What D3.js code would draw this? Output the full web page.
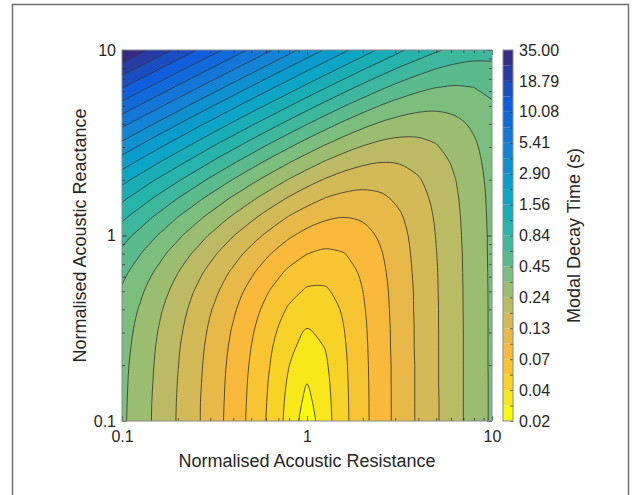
<!DOCTYPE html>
<html>
<head>
<meta charset="utf-8">
<script src="https://cdn.jsdelivr.net/npm/d3@7"></script>
<style>
  body { margin: 0; background: #fff; }
  text { font-family: "Liberation Sans", Arial, sans-serif; fill: #262626; }
</style>
</head>
<body>
<svg id="chart" width="636" height="495"></svg>
<script>
// grid of the sampled field (log spaced, 0.1 decade)
const resistance = [0.1, 0.126, 0.158, 0.2, 0.251, 0.316, 0.398, 0.501, 0.631, 0.794, 1,
                    1.26, 1.58, 2, 2.51, 3.16, 3.98, 5.01, 6.31, 7.94, 10];
const reactance  = [0.1, 0.126, 0.158, 0.2, 0.251, 0.316, 0.398, 0.501, 0.631, 0.794, 1,
                    1.26, 1.58, 2, 2.51, 3.16, 3.98, 5.01, 6.31, 7.94, 10];

// modal decay time (s), one row per reactance value (bottom row first)
const decayTime = [
  [0.349, 0.277, 0.219, 0.173, 0.137, 0.107, 0.0833, 0.0639, 0.0477, 0.0336, 0.0231, 0.0330, 0.0471, 0.0632, 0.0824, 0.106, 0.135, 0.171, 0.217, 0.274, 0.345],
  [0.351, 0.278, 0.220, 0.174, 0.137, 0.108, 0.0840, 0.0645, 0.0483, 0.0345, 0.0250, 0.0336, 0.0473, 0.0633, 0.0825, 0.106, 0.135, 0.171, 0.217, 0.274, 0.345],
  [0.354, 0.281, 0.223, 0.176, 0.139, 0.109, 0.0850, 0.0654, 0.0493, 0.0358, 0.0273, 0.0345, 0.0477, 0.0635, 0.0827, 0.106, 0.135, 0.172, 0.217, 0.274, 0.345],
  [0.359, 0.285, 0.226, 0.179, 0.141, 0.111, 0.0865, 0.0669, 0.0508, 0.0377, 0.0300, 0.0358, 0.0483, 0.0639, 0.0829, 0.106, 0.135, 0.172, 0.217, 0.274, 0.346],
  [0.368, 0.292, 0.231, 0.183, 0.144, 0.114, 0.0890, 0.0691, 0.0530, 0.0403, 0.0333, 0.0377, 0.0493, 0.0645, 0.0833, 0.107, 0.136, 0.172, 0.217, 0.274, 0.346],
  [0.380, 0.302, 0.239, 0.190, 0.150, 0.118, 0.0929, 0.0726, 0.0564, 0.0440, 0.0373, 0.0403, 0.0508, 0.0654, 0.0840, 0.107, 0.136, 0.172, 0.217, 0.274, 0.346],
  [0.401, 0.318, 0.252, 0.200, 0.159, 0.125, 0.0990, 0.0779, 0.0614, 0.0491, 0.0424, 0.0440, 0.0530, 0.0669, 0.0850, 0.108, 0.137, 0.172, 0.218, 0.274, 0.346],
  [0.433, 0.344, 0.273, 0.217, 0.172, 0.137, 0.108, 0.0860, 0.0687, 0.0561, 0.0490, 0.0491, 0.0564, 0.0691, 0.0865, 0.109, 0.137, 0.173, 0.218, 0.275, 0.346],
  [0.485, 0.385, 0.306, 0.243, 0.193, 0.154, 0.123, 0.0983, 0.0795, 0.0658, 0.0577, 0.0561, 0.0614, 0.0726, 0.0890, 0.111, 0.139, 0.174, 0.219, 0.276, 0.347],
  [0.566, 0.450, 0.358, 0.285, 0.227, 0.181, 0.145, 0.117, 0.0952, 0.0795, 0.0695, 0.0658, 0.0687, 0.0779, 0.0929, 0.114, 0.141, 0.176, 0.220, 0.277, 0.348],
  [0.694, 0.552, 0.439, 0.350, 0.279, 0.223, 0.179, 0.145, 0.119, 0.0991, 0.0861, 0.0795, 0.0795, 0.0860, 0.0990, 0.118, 0.144, 0.179, 0.223, 0.278, 0.349],
  [0.897, 0.714, 0.568, 0.452, 0.361, 0.289, 0.232, 0.188, 0.154, 0.128, 0.110, 0.0991, 0.0952, 0.0983, 0.108, 0.125, 0.150, 0.183, 0.226, 0.281, 0.351],
  [1.22, 0.969, 0.771, 0.614, 0.490, 0.392, 0.314, 0.254, 0.207, 0.172, 0.146, 0.128, 0.119, 0.117, 0.123, 0.137, 0.159, 0.190, 0.231, 0.285, 0.354],
  [1.73, 1.37, 1.09, 0.870, 0.694, 0.554, 0.444, 0.357, 0.290, 0.238, 0.199, 0.172, 0.154, 0.145, 0.145, 0.154, 0.172, 0.200, 0.239, 0.292, 0.359],
  [2.54, 2.02, 1.60, 1.28, 1.02, 0.810, 0.648, 0.520, 0.420, 0.342, 0.282, 0.238, 0.207, 0.188, 0.179, 0.181, 0.193, 0.217, 0.253, 0.302, 0.368],
  [3.81, 3.03, 2.41, 1.92, 1.53, 1.21, 0.970, 0.776, 0.623, 0.504, 0.412, 0.342, 0.290, 0.254, 0.232, 0.223, 0.227, 0.243, 0.273, 0.318, 0.380],
  [5.84, 4.64, 3.69, 2.93, 2.33, 1.86, 1.48, 1.18, 0.946, 0.760, 0.616, 0.504, 0.420, 0.357, 0.314, 0.289, 0.279, 0.285, 0.306, 0.344, 0.401],
  [9.05, 7.19, 5.72, 4.54, 3.61, 2.87, 2.29, 1.82, 1.46, 1.17, 0.938, 0.760, 0.623, 0.520, 0.444, 0.392, 0.361, 0.350, 0.358, 0.385, 0.433],
  [14.1, 11.2, 8.93, 7.09, 5.64, 4.48, 3.57, 2.84, 2.26, 1.81, 1.45, 1.17, 0.946, 0.776, 0.648, 0.554, 0.490, 0.452, 0.439, 0.450, 0.485],
  [22.2, 17.6, 14.0, 11.1, 8.85, 7.03, 5.59, 4.45, 3.54, 2.82, 2.25, 1.81, 1.46, 1.18, 0.970, 0.810, 0.694, 0.614, 0.568, 0.552, 0.566],
  [35.0, 27.8, 22.1, 17.5, 13.9, 11.1, 8.81, 7.00, 5.57, 4.43, 3.53, 2.82, 2.26, 1.82, 1.48, 1.21, 1.02, 0.870, 0.771, 0.714, 0.694]
];

// contour levels (s), the colorbar labels sit on every other one
const levels = [0.02000, 0.02730, 0.03727, 0.05087, 0.06943, 0.09477, 0.1294, 0.1766, 0.2410,
                0.3290, 0.4491, 0.6130, 0.8367, 1.1421, 1.5589, 2.1279, 2.9045, 3.9646,
                5.4116, 7.3867, 10.083, 13.763, 18.785, 25.642, 35.00];

const axisTicks = [0.1, 1, 10];
const minorTicks = [0.2, 0.3, 0.4, 0.5, 0.6, 0.7, 0.8, 0.9, 2, 3, 4, 5, 6, 7, 8, 9];

// parula-like map, dark end first
const parulaPos   = [0, 0.125, 0.25, 0.375, 0.5, 0.625, 0.72, 0.82, 0.9, 1];
const parulaStops = ["#352a87", "#0f5cdd", "#1481d6", "#06a4ca", "#2eb7a4",
                     "#87bf77", "#cbb95d", "#f9b83d", "#f7cd2c", "#f9fb0e"];

const svg = d3.select("#chart");
const plot = { left: 122, right: 492, top: 50, bottom: 421 };
const tickFont = 16;
const labelFont = 18;

svg.append("rect").attr("width", 636).attr("height", 495).attr("fill", "#fff");
// figure frame
svg.append("rect")
  .attr("x", 12.5).attr("y", 4.5).attr("width", 616).attr("height", 520)
  .attr("fill", "none").attr("stroke", "#6f6f6f").attr("stroke-width", 1.5);

let x = d3.scaleLog().domain([0.1, 10]).range([plot.left, plot.right]);
let y = d3.scaleLog().domain([0.1, 10]).range([plot.bottom, plot.top]);

let parula = d3.scaleLinear().domain(parulaPos).range(parulaStops).interpolate(d3.interpolateRgb);
let nBands = levels.length - 1;
let bandColor = k => parula(1 - k / (nBands - 1));

// contours on log10 of the decay time
let nx = resistance.length, ny = reactance.length;
let values = decayTime.flat().map(v => Math.log10(v));
let contours = d3.contours()
  .size([nx, ny])
  .thresholds(levels.slice(0, -1).map(v => Math.log10(v)))(values);

// grid cell centres sit at i + 0.5
let gx = d3.scaleLinear().domain([0.5, nx - 0.5])
  .range([Math.log10(resistance[0]), Math.log10(resistance[nx - 1])]);
let gy = d3.scaleLinear().domain([0.5, ny - 0.5])
  .range([Math.log10(reactance[0]), Math.log10(reactance[ny - 1])]);

let toPixel = p => [x(Math.pow(10, gx(p[0]))), y(Math.pow(10, gy(p[1])))];
let isEdge = p => p[0] === 0 || p[0] === nx || p[1] === 0 || p[1] === ny;
let clampPt = p => [Math.max(0.5, Math.min(nx - 0.5, p[0])), Math.max(0.5, Math.min(ny - 0.5, p[1]))];
let openCurve = d3.line().curve(d3.curveCatmullRom.alpha(0.5));
let closedCurve = d3.line().curve(d3.curveCatmullRomClosed.alpha(0.5));

// split a ring into runs along the grid edge and runs through the field
function ringRuns(ring) {
  let pts = ring.slice(0, -1);
  let start = pts.findIndex(isEdge);
  if (start < 0) return null;
  pts = pts.slice(start).concat(pts.slice(0, start));
  let runs = [];
  pts.forEach(p => {
    let e = isEdge(p);
    let last = runs[runs.length - 1];
    if (!last || last.edge !== e) runs.push({ edge: e, pts: [] });
    runs[runs.length - 1].pts.push(toPixel(e ? clampPt(p) : p));
  });
  return runs;
}

function fillPath(c) {
  let out = "";
  c.coordinates.forEach(polygon => polygon.forEach(ring => {
    let runs = ringRuns(ring);
    if (!runs) { out += closedCurve(ring.slice(0, -1).map(toPixel)); return; }
    let s = "M" + runs[0].pts[0].join(",");
    runs.forEach(r => {
      if (r.edge || r.pts.length < 2) s += r.pts.map(p => "L" + p.join(",")).join("");
      else s += "L" + openCurve(r.pts).slice(1);
    });
    out += s + "Z";
  }));
  return out;
}

function linePath(c) {
  let out = "";
  c.coordinates.forEach(polygon => polygon.forEach(ring => {
    let runs = ringRuns(ring);
    if (!runs) { out += closedCurve(ring.slice(0, -1).map(toPixel)); return; }
    runs.filter(r => !r.edge && r.pts.length > 1).forEach(r => { out += openCurve(r.pts); });
  }));
  return out;
}

svg.append("clipPath").attr("id", "plotClip")
  .append("rect")
  .attr("x", plot.left).attr("y", plot.top)
  .attr("width", plot.right - plot.left).attr("height", plot.bottom - plot.top);

let field = svg.append("g").attr("clip-path", "url(#plotClip)");
field.append("rect")
  .attr("x", plot.left).attr("y", plot.top)
  .attr("width", plot.right - plot.left).attr("height", plot.bottom - plot.top)
  .attr("fill", bandColor(0));
field.append("g").selectAll("path")
  .data(contours.slice(1))
  .join("path")
  .attr("d", fillPath)
  .attr("fill", (d, i) => bandColor(i + 1))
  .attr("stroke", "none");

field.append("g").selectAll("path")
  .data(contours.slice(1))
  .join("path")
  .attr("d", linePath)
  .attr("fill", "none")
  .attr("stroke", "#333")
  .attr("stroke-width", 0.9)
  .attr("stroke-opacity", 0.9);

// axes, ticks pointing inwards on all four sides
function styleAxis(g) {
  g.select(".domain").remove();
  g.selectAll(".tick line").attr("stroke", "#262626").attr("stroke-width", 0.7);
  g.selectAll(".tick text").attr("font-size", tickFont).attr("fill", "#262626")
    .style("font-family", '"Liberation Sans", Arial, sans-serif');
}

svg.append("g").attr("transform", `translate(0,${plot.bottom})`)
  .call(d3.axisBottom(x).tickValues(axisTicks).tickFormat(d3.format("~g")).tickSize(-5).tickPadding(10))
  .call(styleAxis);
svg.append("g").attr("transform", `translate(0,${plot.bottom})`)
  .call(d3.axisBottom(x).tickValues(minorTicks).tickFormat("").tickSize(-3))
  .call(styleAxis);
svg.append("g").attr("transform", `translate(0,${plot.top})`)
  .call(d3.axisTop(x).tickValues(axisTicks).tickFormat("").tickSize(-5))
  .call(styleAxis);
svg.append("g").attr("transform", `translate(0,${plot.top})`)
  .call(d3.axisTop(x).tickValues(minorTicks).tickFormat("").tickSize(-3))
  .call(styleAxis);

svg.append("g").attr("transform", `translate(${plot.left},0)`)
  .call(d3.axisLeft(y).tickValues(axisTicks).tickFormat(d3.format("~g")).tickSize(-5).tickPadding(6))
  .call(styleAxis);
svg.append("g").attr("transform", `translate(${plot.left},0)`)
  .call(d3.axisLeft(y).tickValues(minorTicks).tickFormat("").tickSize(-3))
  .call(styleAxis);
svg.append("g").attr("transform", `translate(${plot.right},0)`)
  .call(d3.axisRight(y).tickValues(axisTicks).tickFormat("").tickSize(-5))
  .call(styleAxis);
svg.append("g").attr("transform", `translate(${plot.right},0)`)
  .call(d3.axisRight(y).tickValues(minorTicks).tickFormat("").tickSize(-3))
  .call(styleAxis);

svg.append("rect")
  .attr("x", plot.left).attr("y", plot.top)
  .attr("width", plot.right - plot.left).attr("height", plot.bottom - plot.top)
  .attr("fill", "none").attr("stroke", "#8a8a8a").attr("stroke-width", 1);

svg.append("text")
  .attr("x", (plot.left + plot.right) / 2).attr("y", 467)
  .attr("text-anchor", "middle").attr("font-size", labelFont)
  .text("Normalised Acoustic Resistance");
svg.append("text")
  .attr("transform", `translate(86,${(plot.top + plot.bottom) / 2}) rotate(-90)`)
  .attr("text-anchor", "middle").attr("font-size", labelFont)
  .text("Normalised Acoustic Reactance");

// colorbar
let cb = { left: 503, right: 513 };
let cbScale = d3.scaleLog().domain([levels[0], levels[nBands]]).range([plot.bottom, plot.top]);

svg.append("g").selectAll("rect")
  .data(d3.pairs(levels))
  .join("rect")
  .attr("x", cb.left)
  .attr("y", d => cbScale(d[1]))
  .attr("width", cb.right - cb.left)
  .attr("height", d => cbScale(d[0]) - cbScale(d[1]))
  .attr("fill", (d, i) => bandColor(i));

svg.append("g").attr("transform", `translate(${cb.right},0)`)
  .call(d3.axisRight(cbScale).tickValues(levels).tickFormat("").tickSize(-3))
  .call(styleAxis);
svg.append("g").attr("transform", `translate(${cb.right},0)`)
  .call(d3.axisRight(cbScale).tickValues(levels.filter((d, i) => i % 2 === 0))
    .tickFormat(d3.format(".2f")).tickSize(0).tickPadding(6))
  .call(styleAxis);

svg.append("rect")
  .attr("x", cb.left).attr("y", plot.top)
  .attr("width", cb.right - cb.left).attr("height", plot.bottom - plot.top)
  .attr("fill", "none").attr("stroke", "#8a8a8a").attr("stroke-width", 1);

svg.append("text")
  .attr("transform", `translate(580,${(plot.top + plot.bottom) / 2}) rotate(-90)`)
  .attr("text-anchor", "middle").attr("font-size", labelFont)
  .text("Modal Decay Time (s)");
</script>
</body>
</html>
